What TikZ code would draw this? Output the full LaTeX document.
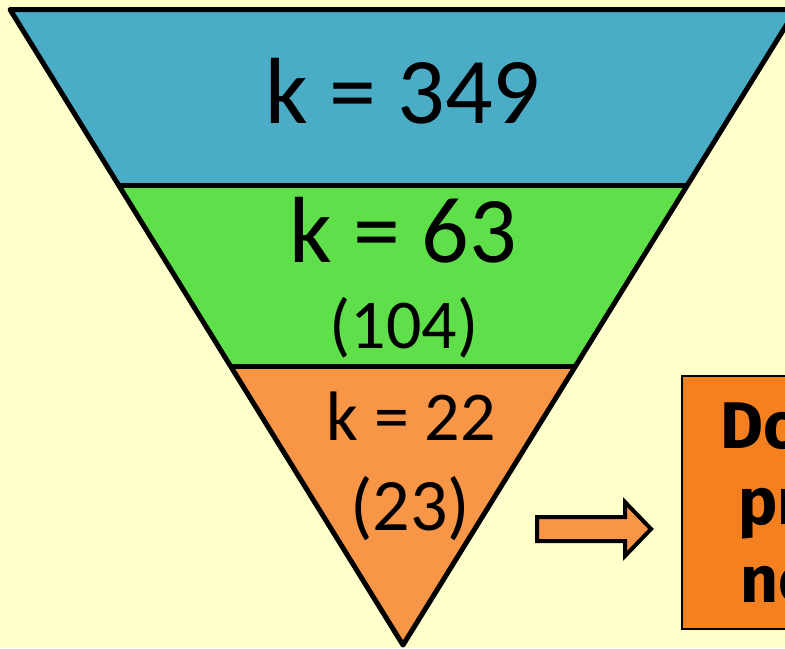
\documentclass[tikz,border=0pt]{standalone}
\usepackage{fontspec}
\usetikzlibrary{positioning,calc}
\newfontfamily\kfont{Carlito}
\newfontfamily\boxfont{Fira Sans}
\definecolor{fnbg}{HTML}{FFFFCC}
\definecolor{fnblue}{HTML}{4BACC6}
\definecolor{fngreen}{HTML}{5FE04A}
\definecolor{fnorange}{HTML}{F79646}
\definecolor{fnbox}{HTML}{F5801F}

\begin{document}
\begin{tikzpicture}[
  x=0.5pt, y=-0.5pt,
  band/.style={draw=black, line width=2.5pt, line join=round},
  klabel/.style={font=\kfont\fontsize{47}{50}\selectfont, anchor=base, inner sep=0pt},
  nlabel/.style={font=\kfont\fontsize{35}{38}\selectfont, anchor=base, inner sep=0pt},
  boxtext/.style={font=\boxfont\bfseries\fontsize{33}{36}\selectfont, anchor=base west, inner sep=0pt},
  stopbox/.style={draw=black, line width=1pt, fill=fnbox, anchor=north west,
    minimum width=110pt, minimum height=126.5pt, outer sep=0pt},
  blockarrow/.style={draw=black, line width=2pt, fill=fnorange, line join=miter},
]

  % Fondo y recorte
  \clip (0,0) rectangle (785,648);
  \fill[fnbg] (0,0) rectangle (785,648);

  % Vertices del embudo
  \coordinate (tl) at (10,9.5);
  \coordinate (tr) at (796,9.5);
  \coordinate (apex) at (403,645);
  \coordinate (l1) at ($(tl)!0.2762!(apex)$);
  \coordinate (r1) at ($(tr)!0.2762!(apex)$);
  \coordinate (l2) at ($(tl)!0.5625!(apex)$);
  \coordinate (r2) at ($(tr)!0.5625!(apex)$);

  % Franjas
  \fill[fnblue] (tl) -- (tr) -- (r1) -- (l1) -- cycle;
  \fill[fngreen] (l1) -- (r1) -- (r2) -- (l2) -- cycle;
  \fill[fnorange] (l2) -- (r2) -- (apex) -- cycle;
  \draw[band] (l1) -- (r1) (l2) -- (r2);
  \draw[band] (tl) -- (tr) -- (apex) -- cycle;

  % Etiquetas de cada franja
  \node[klabel] (k349) at (403,123) {k = 349};
  \node[klabel] (k63) at (403,262) {k = 63};
  \node[nlabel] (n104) at (404,348) {(104)};
  \node[nlabel] (k22) at (411,440) {k = 22};
  \node[nlabel, font=\kfont\fontsize{37}{40}\selectfont] (n23) at (410,530) {(23)};

  % Caja de la derecha
  \node[stopbox] (stop) at (682,376) {};
  \node[boxtext] (do) at (720,448) {Do};
  \node[boxtext] (pr) at (738,524) {pr};
  \node[boxtext] (no) at (740,602) {no};

  % Flecha gruesa hacia la caja
  \coordinate (tip) at ($(stop.west |- 0,529)+(-31,0)$);
  \draw[blockarrow] ($(tip)+(-114,-12)$) -- ($(tip)+(-26,-12)$) -- ($(tip)+(-26,-27)$)
    -- (tip) -- ($(tip)+(-26,27)$) -- ($(tip)+(-26,12)$) -- ($(tip)+(-114,12)$) -- cycle;

\end{tikzpicture}
\end{document}
